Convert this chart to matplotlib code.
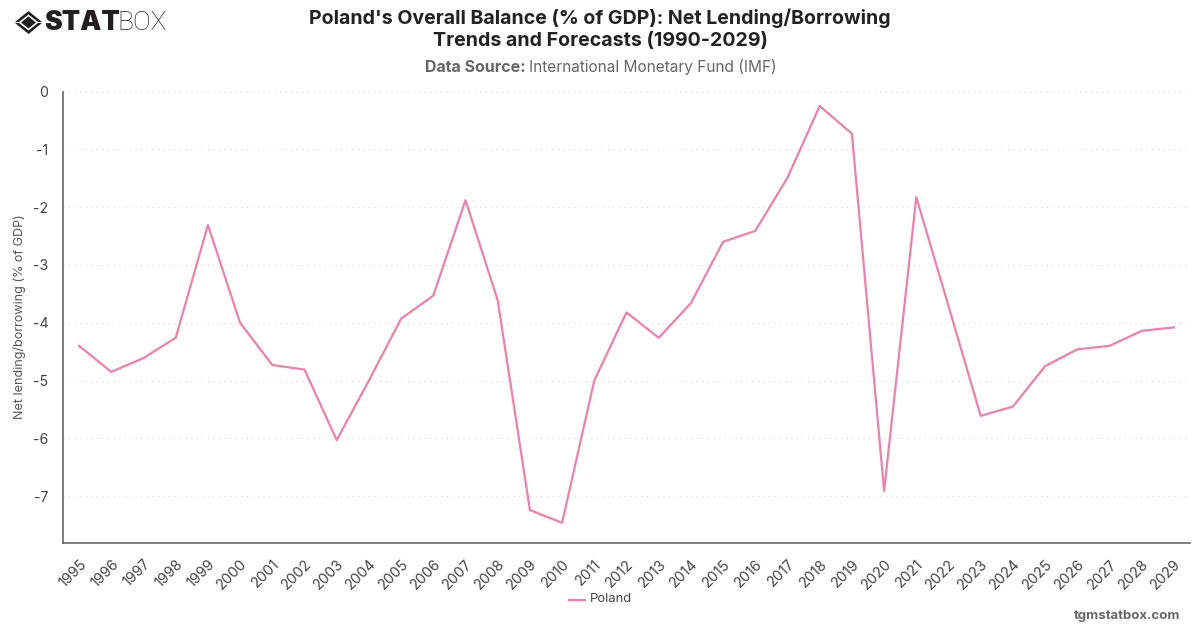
import matplotlib
matplotlib.use('Agg')
import matplotlib.pyplot as plt
from matplotlib.patches import Polygon

plt.rcParams['font.family'] = ['Inter', 'DejaVu Sans']

W, H = 1200, 628

years = [str(y) for y in range(1995, 2030)]
balance = [-4.40, -4.85, -4.61, -4.26, -2.31, -4.00, -4.73, -4.81, -6.03, -5.00,
           -3.93, -3.53, -1.88, -3.61, -7.24, -7.46, -5.00, -3.82, -4.26, -3.66,
           -2.60, -2.41, -1.49, -0.25, -0.73, -6.91, -1.83, -3.71, -5.61, -5.45,
           -4.75, -4.46, -4.40, -4.14, -4.08]
y_ticks = [0, -1, -2, -3, -4, -5, -6, -7]

LINE = '#f27fa9'
AXIS = '#666666'
TEXT = '#444444'

fig = plt.figure(figsize=(12, 6.28), dpi=100, facecolor='white')
ax = fig.add_axes([63 / W, 1 - 543 / H, (1190 - 63) / W, (543 - 91.5) / H])

ax.plot(range(len(years)), balance, color=LINE, lw=1.6, label='Poland')
ax.set_xlim(-0.5, len(years) - 0.5)
ax.set_ylim(-7.81, 0)

ax.set_yticks(y_ticks)
ax.set_yticklabels([str(t) for t in y_ticks], fontsize=10.2, color=TEXT)
ax.set_xticks(range(len(years)))
ax.set_xticklabels(years, rotation=45, ha='right', rotation_mode='anchor', fontsize=10.4, color=TEXT)
ax.tick_params(axis='both', length=0)
ax.tick_params(axis='y', pad=10.5)
ax.tick_params(axis='x', pad=10)
ax.grid(axis='y', color='#dddddd', lw=0.8, ls=(0, (1, 4)))
ax.set_axisbelow(True)

for side in ('top', 'right'):
    ax.spines[side].set_visible(False)
for side in ('left', 'bottom'):
    ax.spines[side].set_color(AXIS)
    ax.spines[side].set_linewidth(1.2)

fig.text(20 / W, 1 - 317 / H, 'Net lending/borrowing (% of GDP)', rotation=90,
         ha='center', va='center', fontsize=9.1, color='#555555')

# titles
fig.text(600 / W, 1 - 18 / H, "Poland's Overall Balance (% of GDP): Net Lending/Borrowing",
         ha='center', va='center', fontsize=14.1, fontweight='bold', color='#222222')
fig.text(600 / W, 1 - 41 / H, 'Trends and Forecasts (1990-2029)',
         ha='center', va='center', fontsize=14.1, fontweight='bold', color='#222222')
fig.text(425 / W, 1 - 67 / H, 'Data Source:', ha='left', va='center',
         fontsize=11.5, fontweight='bold', color='#666666')
fig.text(529 / W, 1 - 67 / H, 'International Monetary Fund (IMF)', ha='left', va='center',
         fontsize=11.1, color='#666666')

# legend
fig.add_artist(plt.Line2D([569 / W, 585 / W], [1 - 599.5 / H] * 2, color=LINE, lw=1.6))
fig.text(590 / W, 1 - 599 / H, 'Poland', ha='left', va='center', fontsize=9.4, color=TEXT)

fig.text(1180 / W, 1 - 616 / H, 'tgmstatbox.com', ha='right', va='center',
         fontsize=9.5, fontweight='bold', color='#666666')


def px(points):
    return [(x / W, 1 - y / H) for x, y in points]


# logo mark: outer diamond ring split in two, solid diamond inside
LOGO = '#231f20'
fig.add_artist(Polygon(px([(15, 22), (28.5, 11), (42, 22), (38, 22), (28.5, 14.5), (19, 22)]),
                       closed=True, color=LOGO, lw=0, transform=fig.transFigure))
fig.add_artist(Polygon(px([(15, 23), (28.5, 34), (42, 23), (38, 23), (28.5, 30.5), (19, 23)]),
                       closed=True, color=LOGO, lw=0, transform=fig.transFigure))
fig.add_artist(Polygon(px([(21, 22.5), (28.5, 16.5), (36, 22.5), (28.5, 28.5)]),
                       closed=True, color=LOGO, lw=0, transform=fig.transFigure))
fig.text(44 / W, 1 - 23 / H, 'STAT', ha='left', va='center', fontsize=19.3,
         fontweight='black', color=LOGO)
fig.text(117.5 / W, 1 - 23 / H, 'BOX', ha='left', va='center', fontsize=19,
         fontweight='light', color=LOGO, family=['Roboto', 'DejaVu Sans'])

fig.savefig('out.png', dpi=100)
